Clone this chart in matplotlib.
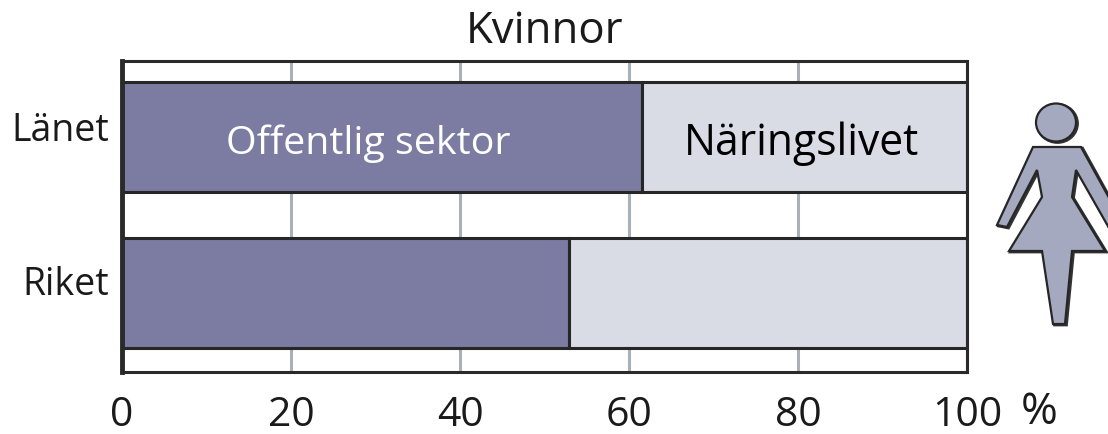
import numpy as np
import matplotlib
matplotlib.use('Agg')
import matplotlib.pyplot as plt
from matplotlib.patches import Polygon, Ellipse
from matplotlib.transforms import ScaledTranslation

plt.rcParams['font.family'] = ['Open Sans', 'DejaVu Sans']

# data
regions = ['Riket', 'Länet']
offentlig = [52.9, 61.5]
naringsliv = [47.1, 38.5]
xticks = [0, 20, 40, 60, 80, 100]

W, H = 1108, 434
fig = plt.figure(figsize=(W / 100, H / 100), dpi=100)
ax = fig.add_axes([122 / W, 1 - 372 / H, 845 / W, 311 / H])

ypos = np.arange(len(regions))
ax.barh(ypos, offentlig, height=0.71, color='#7c7ca2', edgecolor='#262626', linewidth=2.2, zorder=3)
ax.barh(ypos, naringsliv, left=offentlig, height=0.71, color='#d9dbe5', edgecolor='#262626', linewidth=2.2, zorder=3)

ax.set_xlim(0, 100)
ax.set_ylim(-0.506, 1.487)
ax.set_xticks(xticks)
ax.set_yticks(ypos)
ax.set_yticklabels(regions)
ax.tick_params(axis='both', length=0, colors='#1a1a1a')
ax.tick_params(axis='x', pad=17, labelsize=29.5)
ax.tick_params(axis='y', pad=9, labelsize=27)
# etiketterna sitter lite ovanfor staplarnas mitt
for lab, up in zip(ax.get_yticklabels(), [13, 10]):
    lab.set_transform(lab.get_transform() + ScaledTranslation(0, up / 100, fig.dpi_scale_trans))
ax.grid(axis='x', color='#aab0b8', linewidth=2.2, zorder=0)
for s in ax.spines.values():
    s.set_color('#2a2a2a')
    s.set_linewidth(2.2)
    s.set_zorder(4)
ax.spines['left'].set_linewidth(3.5)

ax.text(29.2, 0.955, 'Offentlig sektor', color='white', fontsize=28.4, ha='center', va='center', zorder=5)
ax.text(80.4, 0.955, 'Näringslivet', color='black', fontsize=30.7, ha='center', va='center', zorder=5)
ax.set_title('Kvinnor', fontsize=31.5, color='#1a1a1a', pad=13)
ax.text(1.086, -0.13, '%', transform=ax.transAxes, fontsize=32, color='#1a1a1a', ha='center', va='center')

# kvinnosymbolen, ritad i pixelkoordinater
over = fig.add_axes([0, 0, 1, 1])
over.set_xlim(0, W)
over.set_ylim(H, 0)
over.axis('off')
over.patch.set_alpha(0)
body = [(1033, 147), (1081, 147), (1113, 205), (1113, 235), (1076, 170), (1072, 197),
        (1105, 251), (1072, 251), (1065, 324), (1053, 324), (1042, 251), (1009, 251),
        (1042, 197), (1037, 170), (1007, 227), (997, 225)]
over.add_patch(Polygon([(x + 1.5, y + 1) for x, y in body], closed=True, fc='none', ec='#333333', lw=2))
over.add_patch(Ellipse((1057.5, 123.5), 40, 38, fc='none', ec='#333333', lw=2))
over.add_patch(Polygon(body, closed=True, fc='#a5a9bf', ec='#262626', lw=1.6))
over.add_patch(Ellipse((1056, 122.5), 40, 38, fc='#a5a9bf', ec='#262626', lw=1.6))

fig.savefig('out.png', dpi=100)
